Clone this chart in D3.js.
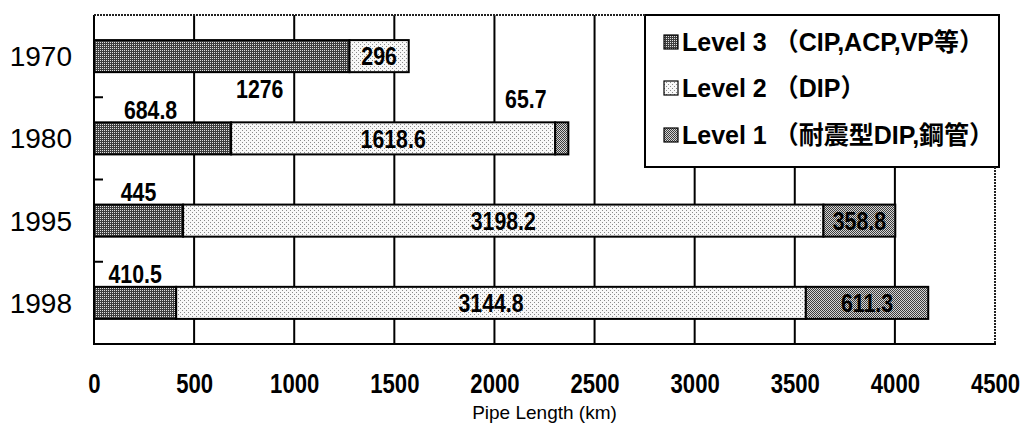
<!DOCTYPE html>
<html>
<head>
<meta charset="utf-8">
<script src="https://cdn.jsdelivr.net/npm/d3@7/dist/d3.min.js"></script>
<style>
  html, body { margin: 0; padding: 0; background: #fff; }
  svg { display: block; }
</style>
</head>
<body>
<svg id="chart" width="1024" height="426"></svg>
<script>
// Pipe length by seismic level, stacked horizontally per survey year
const years  = ["1970", "1980", "1995", "1998"];
const level3 = [1276, 684.8, 445, 410.5];
const level2 = [296, 1618.6, 3198.2, 3144.8];
const level1 = [0, 65.7, 358.8, 611.3];
const xTicks = [0, 500, 1000, 1500, 2000, 2500, 3000, 3500, 4000, 4500];
const seriesNames = ["Level 3 （CIP,ACP,VP等）", "Level 2 （DIP）", "Level 1 （耐震型DIP,鋼管）"];

(function () {
// label nudges for a few labels that sit outside their segment
const labelNudge = {
  "1970-0": { dx: 38, side: "below" },
  "1980-0": { dx: -12, side: "above" },
  "1995-0": { dx: 0, side: "above" },
  "1998-0": { dx: 0, side: "above" },
  "1980-2": { dx: -36, side: "above", lift: 11 }
};

const svg = d3.select("#chart");
const pl = 94, pr = 995, pt = 15, pb = 344;
const squeeze = 0.82; // condensed look for the numeric labels

const x = d3.scaleLinear().domain([0, 4500]).range([pl, pr]);
const y = d3.scaleBand().domain(years).range([pt, pb])
  .paddingInner(0.61).paddingOuter(0.305);

const sans = "'Liberation Sans', Arial, sans-serif";
const cjk = "'Liberation Sans', 'Noto Sans CJK JP', sans-serif";

// fill textures
const defs = svg.append("defs");
function pattern(id, size, bg, dots, color) {
  const p = defs.append("pattern").attr("id", id)
    .attr("patternUnits", "userSpaceOnUse").attr("width", size).attr("height", size);
  p.append("rect").attr("width", size).attr("height", size).attr("fill", bg);
  dots.forEach(([cx, cy]) => p.append("rect").attr("x", cx).attr("y", cy)
    .attr("width", 1).attr("height", 1).attr("fill", color));
}
pattern("pat3", 2, "#3e3e3e", [[0, 0]], "#e0e0e0");
pattern("pat2", 4, "#f8f8f8", [[0, 0], [2, 2]], "#8a8a8a");
pattern("pat1", 2, "#d4d4d4", [[0, 0], [1, 1]], "#3c3c3c");
const fills = ["url(#pat3)", "url(#pat2)", "url(#pat1)"];

svg.append("rect").attr("width", 1024).attr("height", 426).attr("fill", "#fff");

// vertical grid
svg.append("g").selectAll("line")
  .data(xTicks.filter(t => t > 0 && t < 4500))
  .join("line")
  .attr("x1", d => x(d)).attr("x2", d => x(d))
  .attr("y1", pt).attr("y2", pb)
  .attr("stroke", "#000").attr("stroke-width", 2);

// stacked bars
const rows = years.map((yr, i) => ({ year: yr, vals: [level3[i], level2[i], level1[i]] }));
const segs = [];
rows.forEach(r => {
  let acc = 0;
  r.vals.forEach((v, k) => {
    segs.push({ year: r.year, k, v, x0: acc, x1: acc + v });
    acc += v;
  });
});

svg.append("g").selectAll("rect")
  .data(segs.filter(s => s.v > 0))
  .join("rect")
  .attr("x", d => x(d.x0))
  .attr("y", d => y(d.year))
  .attr("width", d => x(d.x1) - x(d.x0))
  .attr("height", y.bandwidth())
  .attr("fill", d => fills[d.k])
  .attr("stroke", "#000").attr("stroke-width", 2);

// value labels
function labelX(d) {
  const n = labelNudge[d.year + "-" + d.k];
  return (x(d.x0) + x(d.x1)) / 2 + (n ? n.dx : 0);
}
function labelY(d) {
  const n = labelNudge[d.year + "-" + d.k];
  const mid = y(d.year) + y.bandwidth() / 2;
  if (!n) return mid;
  if (n.side === "above") return y(d.year) - 13 - (n.lift || 0);
  return y(d.year) + y.bandwidth() + 16;
}
svg.append("g").selectAll("text")
  .data(segs.filter(s => s.v > 0))
  .join("text")
  .attr("transform", d => `translate(${labelX(d)},${labelY(d)}) scale(${squeeze},1)`)
  .attr("dy", "0.36em")
  .attr("text-anchor", "middle")
  .attr("font-family", sans).attr("font-weight", "bold").attr("font-size", 26)
  .attr("fill", "#000")
  .text(d => d.v);

// category ticks on the left edge
svg.append("g").selectAll("line")
  .data(years.slice(1))
  .join("line")
  .attr("x1", pl).attr("x2", pl + 9)
  .attr("y1", d => y(d) - y.step() * y.paddingInner() / 2)
  .attr("y2", d => y(d) - y.step() * y.paddingInner() / 2)
  .attr("stroke", "#000").attr("stroke-width", 2);

// year labels
svg.append("g").selectAll("text")
  .data(years)
  .join("text")
  .attr("x", 72)
  .attr("y", d => y(d) + y.bandwidth() / 2)
  .attr("dy", "0.36em")
  .attr("text-anchor", "end")
  .attr("font-family", sans).attr("font-size", 28)
  .attr("fill", "#000")
  .text(d => d);

// x axis labels
const xAxis = d3.axisBottom(x).tickValues(xTicks).tickSize(0).tickPadding(0).tickFormat(d3.format("d"));
const gx = svg.append("g").attr("transform", `translate(0,${pb})`).call(xAxis);
gx.select(".domain").remove();
gx.selectAll("text")
  .attr("y", 39).attr("dy", "0.36em")
  .attr("transform", `scale(${squeeze},1)`)
  .attr("font-family", sans).attr("font-weight", "bold").attr("font-size", 27)
  .attr("fill", "#000");

svg.append("text")
  .attr("x", (pl + pr) / 2).attr("y", 412)
  .attr("dy", "0.36em").attr("text-anchor", "middle")
  .attr("font-family", sans).attr("font-size", 19)
  .attr("fill", "#000")
  .text("Pipe Length (km)");

// legend
const lg = svg.append("g");
lg.append("rect").attr("x", 645).attr("y", pt).attr("width", 354).attr("height", 152)
  .attr("fill", "#fff").attr("stroke", "#000").attr("stroke-width", 2);
const rowY = [42, 88, 135];
seriesNames.forEach((name, k) => {
  lg.append("rect").attr("x", 664).attr("y", rowY[k] - 7).attr("width", 14).attr("height", 14)
    .attr("fill", fills[k]).attr("stroke", "#000").attr("stroke-width", 1.2);
  lg.append("text").attr("x", 682).attr("y", rowY[k]).attr("dy", "0.36em")
    .attr("font-family", cjk).attr("font-weight", "bold").attr("font-size", 25)
    .attr("fill", "#000").text(name);
});

// plot frame: solid left and bottom, speckled top and right
svg.append("line").attr("x1", pl).attr("x2", pl).attr("y1", pt).attr("y2", pb)
  .attr("stroke", "#000").attr("stroke-width", 2);
svg.append("line").attr("x1", pl - 1).attr("x2", pr + 1).attr("y1", pb).attr("y2", pb)
  .attr("stroke", "#000").attr("stroke-width", 2);
svg.append("line").attr("x1", pl).attr("x2", 645).attr("y1", pt).attr("y2", pt)
  .attr("stroke", "#222").attr("stroke-width", 2).attr("stroke-dasharray", "2,1");
svg.append("line").attr("x1", pr).attr("x2", pr).attr("y1", 167).attr("y2", pb)
  .attr("stroke", "#222").attr("stroke-width", 2).attr("stroke-dasharray", "2,1");
})();
</script>
</body>
</html>
